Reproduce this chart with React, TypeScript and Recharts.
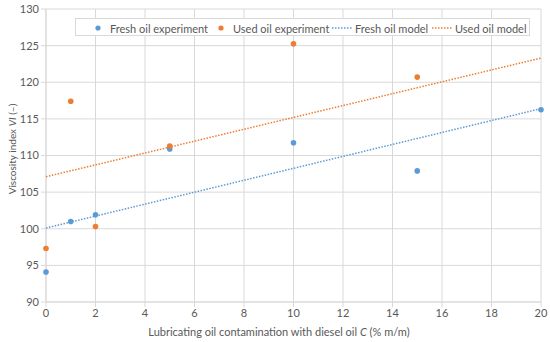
import {
  CartesianGrid,
  Legend,
  Scatter,
  ScatterChart,
  XAxis,
  YAxis,
} from "recharts";

const concentration = [0, 1, 2, 5, 10, 15, 20];
const freshValues = [94.1, 101.0, 101.9, 110.9, 111.75, 107.9, 116.25];
const usedConcentration = [0, 1, 2, 5, 10, 15];
const usedValues = [97.3, 117.4, 100.3, 111.3, 125.25, 120.7];
const modelX = [0, 20];
const freshModelValues = [100.1, 116.4];
const usedModelValues = [107.1, 123.3];
const xTicks = [0, 2, 4, 6, 8, 10, 12, 14, 16, 18, 20];
const yTicks = [90, 95, 100, 105, 110, 115, 120, 125, 130];

const BLUE = "#5b9bd5";
const ORANGE = "#ed7d31";
const GRID = "#d9d9d9";
const TEXT = "#595959";
const FONT = "Lato, 'Liberation Sans', sans-serif";

const toPoints = (xs: number[], ys: number[]) => xs.map((x, i) => ({ x, y: ys[i] }));

const freshData = toPoints(concentration, freshValues);
const usedData = toPoints(usedConcentration, usedValues);
const freshModel = toPoints(modelX, freshModelValues);
const usedModel = toPoints(modelX, usedModelValues);

const dot = (color: string) => (props: any) => (
  <circle cx={props.cx} cy={props.cy} r={2.8} fill={color} />
);
const noDot = () => <g />;

function LegendBox() {
  const item = (left: number, kind: "dot" | "line", color: string, label: string) => (
    <div
      key={label}
      style={{ position: "absolute", left, top: 0, height: 18, display: "flex", alignItems: "center" }}
    >
      {kind === "dot" ? (
        <svg width={20} height={10} style={{ marginRight: 1 }}>
          <circle cx={9} cy={5} r={2.6} fill={color} />
        </svg>
      ) : (
        <svg width={20} height={10} style={{ marginRight: 3 }}>
          <line x1={0} y1={5} x2={20} y2={5} stroke={color} strokeWidth={1.5} strokeDasharray="1.5 1.5" />
        </svg>
      )}
      <span>{label}</span>
    </div>
  );
  return (
    <div
      style={{
        position: "relative",
        width: 455,
        height: 18,
        border: `1px solid ${GRID}`,
        background: "#fff",
        boxSizing: "border-box",
        fontFamily: FONT,
        fontSize: 11,
        color: TEXT,
        whiteSpace: "nowrap",
      }}
    >
      {item(13, "dot", BLUE, "Fresh oil experiment")}
      {item(136, "dot", ORANGE, "Used oil experiment")}
      {item(256, "line", BLUE, "Fresh oil model")}
      {item(356, "line", ORANGE, "Used oil model")}
    </div>
  );
}

const YLabel = () => (
  <text
    transform="translate(15.5, 149) rotate(-90)"
    textAnchor="middle"
    fill={TEXT}
    fontSize={10}
    fontFamily={FONT}
  >
    Viscosity index <tspan fontStyle="italic">VI</tspan> (–)
  </text>
);

const XLabel = () => (
  <text x={279} y={336} textAnchor="middle" fill={TEXT} fontSize={11} fontFamily={FONT}>
    Lubricating oil contamination with diesel oil <tspan fontStyle="italic">C</tspan> (% m/m)
  </text>
);

export default function App() {
  return (
    <div style={{ position: "absolute", left: 0, top: 0, width: 550, height: 342, background: "#fff" }}>
      <ScatterChart width={550} height={342} margin={{ top: 9, right: 9, bottom: 0, left: 0 }}>
        <CartesianGrid stroke={GRID} />
        <XAxis
          type="number"
          dataKey="x"
          domain={[0, 20]}
          ticks={xTicks}
          interval={0}
          height={40}
          stroke={GRID}
          tickSize={5}
          tick={{ fill: TEXT, fontSize: 11, fontFamily: FONT }}
          label={<XLabel />}
        />
        <YAxis
          type="number"
          dataKey="y"
          domain={[90, 130]}
          ticks={yTicks}
          interval={0}
          width={46}
          stroke={GRID}
          tickSize={5}
          tick={{ fill: TEXT, fontSize: 11, fontFamily: FONT }}
          label={<YLabel />}
        />
        <Legend
          layout="horizontal"
          verticalAlign="middle"
          align="center"
          wrapperStyle={{ top: 18, left: 75, width: 455, height: 18 }}
          content={() => <LegendBox />}
        />
        <Scatter
          name="Fresh oil model"
          data={freshModel}
          shape={noDot}
          line={{ stroke: BLUE, strokeWidth: 1.5, strokeDasharray: "1.5 1.5" }}
          isAnimationActive={false}
        />
        <Scatter
          name="Used oil model"
          data={usedModel}
          shape={noDot}
          line={{ stroke: ORANGE, strokeWidth: 1.5, strokeDasharray: "1.5 1.5" }}
          isAnimationActive={false}
        />
        <Scatter name="Fresh oil experiment" data={freshData} shape={dot(BLUE)} isAnimationActive={false} />
        <Scatter name="Used oil experiment" data={usedData} shape={dot(ORANGE)} isAnimationActive={false} />
      </ScatterChart>
    </div>
  );
}
